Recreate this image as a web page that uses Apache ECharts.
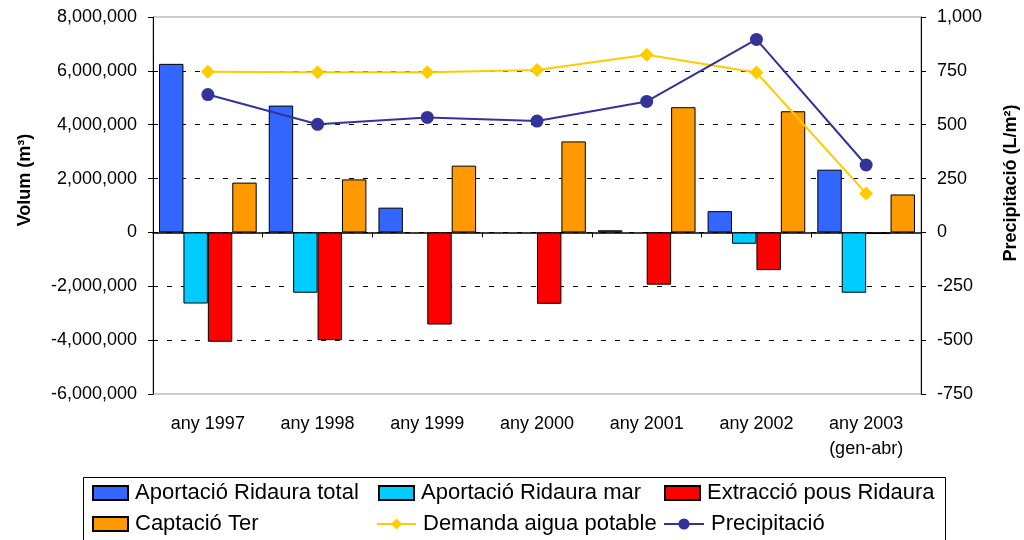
<!DOCTYPE html>
<html><head><meta charset="utf-8">
<script src="https://cdn.jsdelivr.net/npm/echarts@6/dist/echarts.min.js"></script>
<style>html,body{margin:0;padding:0;background:#fff}#c{width:1024px;height:540px}</style>
</head><body><div id="c"></div>
<script>
const categories = ['any 1997','any 1998','any 1999','any 2000','any 2001','any 2002','any 2003\n(gen-abr)'];
const aportacioTotal = [6260000, 4710000, 920000, null, 80000, 790000, 2330000];
const aportacioMar   = [-2640000, -2240000, null, null, null, -420000, -2240000];
const extraccioPous  = [-4060000, -4000000, -3420000, -2650000, -1940000, -1400000, -60000];
const captacioTer    = [1850000, 1970000, 2480000, 3380000, 4650000, 4500000, 1410000];
const demandaAigua   = [5970000, 5950000, 5950000, 6030000, 6600000, 5940000, 1450000];
const precipitacio   = [640, 502, 534, 517, 608, 896, 313];
const volumAxis = {min: -6000000, max: 8000000, interval: 2000000};
const precipAxis = {min: -750, max: 1000, interval: 250};

const FONT = '"Liberation Sans", Arial, sans-serif';
const fmt = v => Number(v).toLocaleString('en-US');
const chart = echarts.init(document.getElementById('c'), null, {renderer: 'canvas'});

function barSeries(name, data, color) {
  return {
    name, type: 'bar', data, xAxisIndex: 0, yAxisIndex: 0,
    barGap: '0%', barCategoryGap: '11%',
    itemStyle: {color, borderColor: '#000', borderWidth: 1},
    z: 2
  };
}
function legendItem(name, left, top, w, icon) {
  const l = {
    data: [name], left, top, padding: 0, itemWidth: w, itemHeight: 14,
    textStyle: {fontFamily: FONT, fontSize: 22, color: '#000', padding: [0,0,0,2]},
    selectedMode: false
  };
  if (icon) l.icon = icon;
  return l;
}

chart.setOption({
  animation: false,
  backgroundColor: '#fff',
  grid: {left: 153, right: 103, top: 17, bottom: 146, show: true, borderColor: '#999', borderWidth: 1},
  xAxis: [
    {type: 'category', data: categories, position: 'bottom',
     axisLine: {show: true, onZero: true, lineStyle: {color: '#000', width: 1.5}},
     axisTick: {show: true, length: 5, lineStyle: {color: '#000'}},
     axisLabel: {show: false}, splitLine: {show: false}},
    {type: 'category', data: categories, position: 'bottom',
     axisLine: {show: false, onZero: false}, axisTick: {show: false}, splitLine: {show: false},
     axisLabel: {show: true, margin: 18, color: '#000', fontFamily: FONT, fontSize: 18, lineHeight: 25}}
  ],
  yAxis: [
    {type: 'value', position: 'left', min: volumAxis.min, max: volumAxis.max, interval: volumAxis.interval,
     axisLine: {show: true, lineStyle: {color: '#000', width: 1}},
     axisTick: {show: true, length: 5, lineStyle: {color: '#000'}},
     axisLabel: {formatter: fmt, margin: 16, color: '#000', fontFamily: FONT, fontSize: 18},
     splitLine: {show: true, showMinLine: false, showMaxLine: false, lineStyle: {color: '#000', type: [5, 9], width: 1}}},
    {type: 'value', position: 'right', min: precipAxis.min, max: precipAxis.max, interval: precipAxis.interval,
     axisLine: {show: true, lineStyle: {color: '#000', width: 1}},
     axisTick: {show: true, length: 5, lineStyle: {color: '#000'}},
     axisLabel: {formatter: fmt, margin: 16, color: '#000', fontFamily: FONT, fontSize: 18},
     splitLine: {show: false}}
  ],
  legend: [
    legendItem('Aportació Ridaura total', 92, 482, 35, 'rect'),
    legendItem('Aportació Ridaura mar', 378, 482, 35, 'rect'),
    legendItem('Extracció pous Ridaura', 664, 482, 35, 'rect'),
    legendItem('Captació Ter', 92, 513, 35, 'rect'),
    legendItem('Demanda aigua potable', 376, 513, 39),
    legendItem('Precipitació', 663, 513, 40)
  ],
  graphic: [
    {type: 'rect', shape: {x: 83.5, y: 477.5, width: 862, height: 80}, style: {fill: 'none', stroke: '#000', lineWidth: 1}, z: 0},
    {type: 'text', x: 25, y: 180, rotation: Math.PI / 2,
     style: {text: 'Volum (m³)', font: 'bold 18px ' + FONT, fill: '#000', textAlign: 'center', textVerticalAlign: 'middle'}},
    {type: 'text', x: 1011, y: 183, rotation: Math.PI / 2,
     style: {text: 'Precipitació (L/m²)', font: 'bold 18px ' + FONT, fill: '#000', textAlign: 'center', textVerticalAlign: 'middle'}}
  ],
  series: [
    barSeries('Aportació Ridaura total', aportacioTotal, '#3366FF'),
    barSeries('Aportació Ridaura mar', aportacioMar, '#00CCFF'),
    barSeries('Extracció pous Ridaura', extraccioPous, '#FF0000'),
    barSeries('Captació Ter', captacioTer, '#FF9900'),
    {name: 'Demanda aigua potable', type: 'line', data: demandaAigua, xAxisIndex: 0, yAxisIndex: 0,
     symbol: 'diamond', symbolSize: 14, itemStyle: {color: '#FFCC00'}, lineStyle: {color: '#FFCC00', width: 2}, z: 5},
    {name: 'Precipitació', type: 'line', data: precipitacio, xAxisIndex: 0, yAxisIndex: 1,
     symbol: 'circle', symbolSize: 13, itemStyle: {color: '#333399'}, lineStyle: {color: '#333399', width: 2}, z: 6}
  ]
});
</script>
</body></html>
